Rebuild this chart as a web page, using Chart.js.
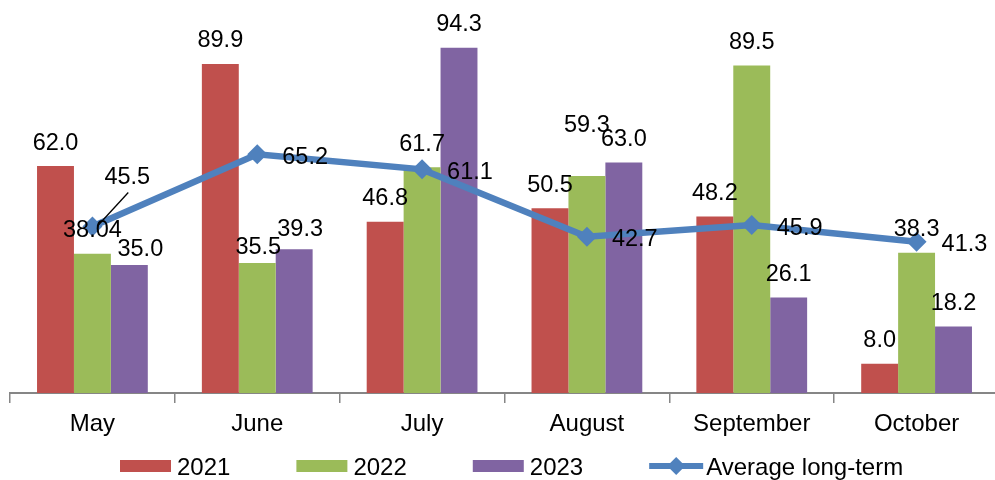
<!DOCTYPE html>
<html>
<head>
<meta charset="utf-8">
<script src="https://cdn.jsdelivr.net/npm/chart.js@4/dist/chart.umd.min.js"></script>
<style>
  html, body { margin: 0; padding: 0; background: #fff; overflow: hidden; }
  #wrap { position: relative; width: 1009px; height: 480px; overflow: hidden; }
  canvas { display: block; }
</style>
</head>
<body>
<div id="wrap"><canvas id="c" width="1009" height="480" style="width:1009px;height:480px"></canvas></div>
<script>
// ---- data ----
const months = ['May', 'June', 'July', 'August', 'September', 'October'];
const series2021 = [62.0, 89.9, 46.8, 50.5, 48.2, 8.0];
const series2022 = [38.04, 35.5, 61.7, 59.3, 89.5, 38.3];
const series2023 = [35.0, 39.3, 94.3, 63.0, 26.1, 18.2];
const avgLongTerm = [45.5, 65.2, 61.1, 42.7, 45.9, 41.3];
const seriesNames = ['2021', '2022', '2023', 'Average long-term'];
const yMin = 0;
const yMax = 100;

// ---- styling ----
const colors = ['#C0504D', '#9BBB59', '#8064A2', '#4F81BD'];
const FONT = '"Liberation Sans", Arial, sans-serif';
const labelNudges = { '1-1': [1, 7], '1-3': [0, -27], '2-0': [11, 8], '2-1': [6, 3], '3-0': [-13, -52] };

function fmt(v) {
  return Math.abs(v * 10 - Math.round(v * 10)) < 1e-9 ? v.toFixed(1) : String(v);
}

const labelPlugin = {
  id: 'valueLabels',
  afterDatasetsDraw(chart) {
    const ctx = chart.ctx;
    ctx.save();
    ctx.font = '23.5px ' + FONT;
    ctx.fillStyle = '#000';
    ctx.textBaseline = 'alphabetic';
    chart.data.datasets.forEach((ds, di) => {
      const meta = chart.getDatasetMeta(di);
      meta.data.forEach((el, i) => {
        const txt = fmt(ds.data[i]);
        const n = labelNudges[di + '-' + i] || [0, 0];
        let x, y;
        if (ds.type === 'line') {
          ctx.textAlign = 'left';
          x = el.x + 25 + n[0];
          y = el.y + 1 + n[1];
        } else {
          ctx.textAlign = 'center';
          x = el.x + n[0];
          y = el.y - 25 + n[1];
        }
        ctx.fillText(txt, x, y + 8.5);
        if (ds.type === 'line' && labelNudges[di + '-' + i]) {
          const w = ctx.measureText(txt).width;
          const cx = x + w / 2;
          ctx.beginPath();
          ctx.strokeStyle = '#000';
          ctx.lineWidth = 1.3;
          ctx.moveTo(cx + 1, y + 17);
          ctx.lineTo(el.x + 6, el.y - 1.5);
          ctx.stroke();
        }
      });
    });
    ctx.restore();
  },
  afterDraw(chart) {
    const ctx = chart.ctx;
    ctx.save();
    ctx.font = '24px ' + FONT;
    ctx.textBaseline = 'alphabetic';
    ctx.textAlign = 'left';
    const cy = 466;
    let x = 120;
    seriesNames.forEach((name, i) => {
      if (i < 3) {
        ctx.fillStyle = colors[i];
        ctx.fillRect(x, cy - 6, 51, 12);
      } else {
        ctx.strokeStyle = colors[3];
        ctx.lineWidth = 6;
        ctx.beginPath();
        ctx.moveTo(x, cy);
        ctx.lineTo(x + 54, cy);
        ctx.stroke();
        ctx.fillStyle = colors[3];
        ctx.beginPath();
        ctx.moveTo(x + 27, cy - 9);
        ctx.lineTo(x + 36, cy);
        ctx.lineTo(x + 27, cy + 9);
        ctx.lineTo(x + 18, cy);
        ctx.closePath();
        ctx.fill();
      }
      ctx.fillStyle = '#000';
      const tx = x + 57;
      ctx.fillText(name, tx, cy + 8.6);
      x = tx + ctx.measureText(name).width + 66;
    });
    ctx.restore();
  }
};

const barSets = [series2021, series2022, series2023].map((d, i) => ({
  type: 'bar',
  label: seriesNames[i],
  data: d,
  backgroundColor: colors[i],
  borderWidth: 0,
  categoryPercentage: 0.672,
  barPercentage: 1.0,
  order: 1
}));

new Chart(document.getElementById('c'), {
  data: {
    labels: months,
    datasets: [
      ...barSets,
      {
        type: 'line',
        label: seriesNames[3],
        data: avgLongTerm,
        borderColor: colors[3],
        backgroundColor: colors[3],
        borderWidth: 6.5,
        pointStyle: 'rectRot',
        pointRadius: 10,
        pointBorderWidth: 0,
        pointBackgroundColor: colors[3],
        tension: 0,
        order: 0
      }
    ]
  },
  options: {
    responsive: false,
    maintainAspectRatio: false,
    animation: false,
    devicePixelRatio: 1,
    layout: { padding: { left: 9, right: 1, top: 27, bottom: 0 } },
    plugins: { legend: { display: false }, tooltip: { enabled: false } },
    scales: {
      x: {
        offset: true,
        grid: { display: true, drawOnChartArea: false, drawTicks: true, tickLength: 10, color: '#868686', lineWidth: 1.5, offset: true },
        border: { display: true, color: '#868686', width: 2 },
        ticks: { color: '#000', font: { family: FONT, size: 24 }, padding: 7, maxRotation: 0 },
        afterFit(scale) { scale.height = 87; }
      },
      y: {
        display: false,
        min: yMin,
        max: yMax
      }
    }
  },
  plugins: [labelPlugin]
});
</script>
</body>
</html>
